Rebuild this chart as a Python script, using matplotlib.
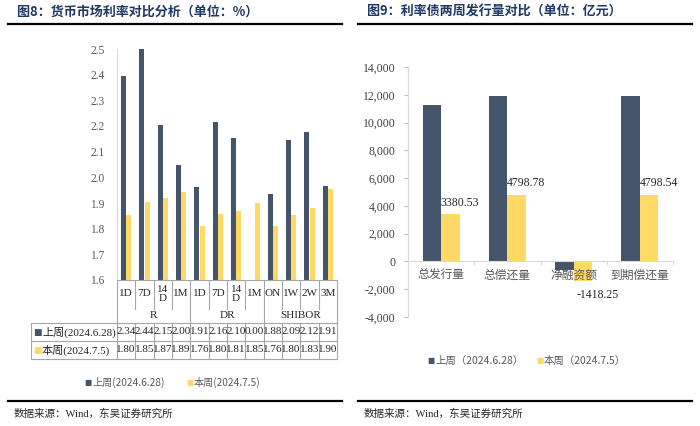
import matplotlib
matplotlib.use("Agg")
import matplotlib.pyplot as plt
from matplotlib.lines import Line2D
from matplotlib.transforms import blended_transform_factory
from matplotlib.ticker import FuncFormatter, FixedLocator

plt.rcParams['font.family'] = ['Liberation Serif', 'Noto Sans CJK SC', 'DejaVu Sans']

# ---------------- data ----------------
# Left chart: money market rates
mm_ticks = ["1D", "7D", "14\nD", "1M", "1D", "7D", "14\nD", "1M", "ON", "1W", "2W", "3M"]
mm_groups = ["R", "DR", "SHIBOR"]
mm_group_sizes = [4, 4, 4]
mm_last_bars = [2.395, 2.50, 2.205, 2.05, 1.963, 2.215, 2.155, 0.00, 1.937, 2.147, 2.177, 1.967]
mm_this_bars = [1.853, 1.905, 1.92, 1.942, 1.812, 1.857, 1.867, 1.90, 1.812, 1.855, 1.88, 1.955]
mm_last_table = ["2.34", "2.44", "2.15", "2.00", "1.91", "2.16", "2.10", "0.00", "1.88", "2.09", "2.12", "1.91"]
mm_this_table = ["1.80", "1.85", "1.87", "1.89", "1.76", "1.80", "1.81", "1.85", "1.76", "1.80", "1.83", "1.90"]
mm_series = ["上周(2024.6.28)", "本周(2024.7.5)"]
mm_yticks = [1.6, 1.7, 1.8, 1.9, 2.0, 2.1, 2.2, 2.3, 2.4, 2.5]

# Right chart: rate bond issuance
bond_cats = ["总发行量", "总偿还量", "净融资额", "到期偿还量"]
bond_last = [11280, 11900, -600, 11900]
bond_this = [3380.53, 4798.78, -1418.25, 4798.54]
bond_labels = ["3380.53", "4798.78", "-1418.25", "4798.54"]
bond_series = ["上周（2024.6.28）", "本周（2024.7.5）"]
bond_yticks = list(range(-4000, 14001, 2000))

titles = ["图8：货币市场利率对比分析（单位：%）", "图9：利率债两周发行量对比（单位：亿元）"]
source = "数据来源：Wind，东吴证券研究所"

DARK = "#44546A"
YELLOW = "#FFD966"
TITLE_C = "#1F3864"
GRID_C = "#A6A6A6"
TXT = "#404040"

W, H = 700, 426
fig = plt.figure(figsize=(7.0, 4.26), dpi=100)

def fx(px):
    return px / W

def fy(py):
    return 1 - py / H

CJK = ['Noto Sans CJK SC', 'DejaVu Sans']
SERIF = ['Liberation Serif', 'Noto Sans CJK SC', 'DejaVu Sans']

# ---------------- headers / footers ----------------
for (x0, x1, tx, title) in [(8, 342, 17, titles[0]), (358, 692, 367, titles[1])]:
    fig.text(fx(tx), fy(12), title, fontsize=9.4, fontweight='bold', color=TITLE_C,
             family=CJK, va='center', ha='left')
    fig.add_artist(Line2D([fx(x0), fx(x1)], [fy(24), fy(24)], color='black', lw=1.6))
    fig.add_artist(Line2D([fx(x0), fx(x1)], [fy(401), fy(401)], color='black', lw=1.6))
    fig.text(fx(x0 + 6), fy(414), source, fontsize=7.6, color='#262626',
             family=SERIF, va='center', ha='left')

# ---------------- left chart ----------------
axL = fig.add_axes([fx(117), fy(280), fx(337) - fx(117), fy(49) - fy(280)])
n = len(mm_ticks)
xs = list(range(n))
bw = 0.28
axL.bar([x - 0.15 for x in xs], mm_last_bars, width=bw, color=DARK, zorder=2)
axL.bar([x + 0.15 for x in xs], mm_this_bars, width=bw, color=YELLOW, zorder=2)
axL.set_xlim(-0.5, n - 0.5)
axL.set_ylim(1.6, 2.5)
axL.set_yticks(mm_yticks)
axL.yaxis.set_major_formatter(FuncFormatter(lambda v, p: f"{v:.1f}"))
axL.tick_params(axis='y', length=0, pad=9, labelsize=8.3, labelcolor='#595959')
axL.set_xticks([])
for s in ['top', 'right', 'bottom']:
    axL.spines[s].set_visible(False)
axL.spines['left'].set_color('#D9D9D9')

# table under the left chart
tr = blended_transform_factory(axL.transData, fig.transFigure)
def hline(x0d, x1d, py):
    fig.add_artist(Line2D([x0d, x1d], [fy(py), fy(py)], color=GRID_C, lw=0.8, transform=tr))
def vline(xd, py0, py1):
    fig.add_artist(Line2D([xd, xd], [fy(py0), fy(py1)], color=GRID_C, lw=0.8, transform=tr))

left_px = 31
xl_data = -0.5 - (117 - left_px) / ((337 - 117) / n)

hline(-0.5, n - 0.5, 280)
for py in [323, 341, 359]:
    hline(xl_data, n - 0.5, py)
vline(xl_data, 323, 359)
bounds = [0]
for g in mm_group_sizes:
    bounds.append(bounds[-1] + g)
for k in range(n + 1):
    xd = k - 0.5
    if k in bounds:
        vline(xd, 280, 359)
    else:
        vline(xd, 280, 309)
        vline(xd, 323, 359)

for i, t in enumerate(mm_ticks):
    fig.text(i, fy(294), t, transform=tr, ha='center', va='center', fontsize=8,
             color='#262626', family=SERIF, linespacing=1.0)
for gi, g in enumerate(mm_groups):
    c = (bounds[gi] + bounds[gi + 1] - 1) / 2
    fig.text(c, fy(315), g, transform=tr, ha='center', va='center', fontsize=8,
             color='#262626', family=SERIF)
for i in range(n):
    fig.text(i, fy(332), mm_last_table[i], transform=tr, ha='center', va='center',
             fontsize=8, color='#262626', family=SERIF)
    fig.text(i, fy(350), mm_this_table[i], transform=tr, ha='center', va='center',
             fontsize=8, color='#262626', family=SERIF)
for py, col, lab in [(332, DARK, mm_series[0]), (350, YELLOW, mm_series[1])]:
    fig.text(fx(37), fy(py), "■", fontsize=6.5, color=col, family=['DejaVu Sans'],
             ha='center', va='center')
    fig.text(fx(42), fy(py), lab, fontsize=8, color='#262626', family=SERIF,
             ha='left', va='center')

# left legend
for px, col, lab in [(88, DARK, mm_series[0]), (190, YELLOW, mm_series[1])]:
    fig.text(fx(px), fy(382), "■", fontsize=5.5, color=col, family=['DejaVu Sans'],
             ha='center', va='center')
    fig.text(fx(px + 4), fy(382), lab, fontsize=7.3, color='#595959', family=CJK,
             ha='left', va='center')

# ---------------- right chart ----------------
axR = fig.add_axes([fx(408), fy(317), fx(673) - fx(408), fy(67) - fy(317)])
m = len(bond_cats)
xr = list(range(m))
bw2 = 0.28
axR.bar([x - 0.14 for x in xr], bond_last, width=bw2, color=DARK, zorder=1)
bars_this = axR.bar([x + 0.14 for x in xr], bond_this, width=bw2, color=YELLOW, zorder=1)
axR.set_xlim(-0.5, m - 0.5)
axR.set_ylim(-4000, 14000)
axR.set_yticks(bond_yticks)
axR.yaxis.set_major_formatter(FuncFormatter(lambda v, p: f"{int(v):,}"))
axR.tick_params(axis='y', length=3, color='#BFBFBF', pad=6, labelsize=8.5, labelcolor=TXT)
for s in ['top', 'right']:
    axR.spines[s].set_visible(False)
axR.spines['left'].set_color('#D9D9D9')
axR.spines['bottom'].set_position(('data', 0))
axR.spines['bottom'].set_color('#D9D9D9')
axR.xaxis.set_major_locator(FixedLocator([k - 0.5 for k in range(m + 1)]))
axR.xaxis.set_minor_locator(FixedLocator(xr))
axR.xaxis.set_major_formatter(FuncFormatter(lambda v, p: ""))
axR.set_xticklabels(bond_cats, minor=True, family=CJK, fontsize=8.5, color='#595959')
axR.tick_params(axis='x', which='major', length=3, color='#D9D9D9', direction='out')
axR.tick_params(axis='x', which='minor', length=0, pad=5)
axR.xaxis.set_zorder(3)

for i, (b, lab) in enumerate(zip(bars_this, bond_labels)):
    v = bond_this[i]
    if v >= 0:
        axR.annotate(lab, (b.get_x() + b.get_width() / 2, v), xytext=(7, 4),
                     textcoords='offset points', ha='center', va='bottom',
                     fontsize=8.5, color='#262626', family=SERIF)
    else:
        axR.annotate(lab, (b.get_x() + b.get_width() / 2, v), xytext=(11, -6),
                     textcoords='offset points', ha='center', va='top',
                     fontsize=8.5, color='#262626', family=SERIF)

# right legend
for px, col, lab in [(431, DARK, bond_series[0]), (540, YELLOW, bond_series[1])]:
    fig.text(fx(px), fy(361), "■", fontsize=5.5, color=col, family=['DejaVu Sans'],
             ha='center', va='center')
    fig.text(fx(px + 4), fy(361), lab, fontsize=7.5, color='#595959', family=CJK,
             ha='left', va='center')

fig.savefig("out.png", dpi=100)
